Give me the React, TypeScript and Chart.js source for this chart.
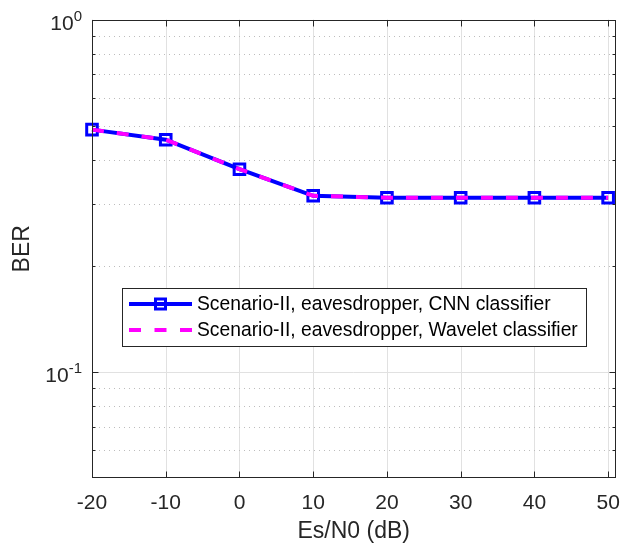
import React, { useEffect, useRef } from 'react';
import { Chart, registerables } from 'chart.js';

Chart.register(...registerables);

// ---- data ----
const SNR_DB = [-20, -10, 0, 10, 20, 30, 40, 50];
const BER_CNN = [0.487, 0.456, 0.376, 0.316, 0.312, 0.312, 0.312, 0.312];
const BER_WAVELET = [0.487, 0.456, 0.376, 0.316, 0.312, 0.312, 0.312, 0.312];
const X_TICKS = [-20, -10, 0, 10, 20, 30, 40, 50];
const Y_MAJOR = [0.1, 1];
const Y_MAJOR_EXP = ['-1', '0'];
const Y_MINOR = [0.06, 0.07, 0.08, 0.09, 0.2, 0.3, 0.4, 0.5, 0.6, 0.7, 0.8, 0.9];
const SERIES_LABELS = [
  'Scenario-II, eavesdropper, CNN classifier',
  'Scenario-II, eavesdropper, Wavelet classifier',
];
const X_TITLE = 'Es/N0 (dB)';
const Y_TITLE = 'BER';

const FONT = '"Liberation Sans", Arial, Helvetica, sans-serif';
const AXIS_COLOR = '#262626';
const BLUE = '#0000ff';
const MAGENTA = '#ff00ff';

const matlabPlugin = {
  id: 'matlabDecor',
  beforeDatasetsDraw(chart: any) {
    const { ctx, chartArea: a, scales } = chart;
    const x = scales.x;
    const y = scales.y;
    ctx.save();
    ctx.lineWidth = 1;
    ctx.strokeStyle = '#e1e1e1';
    ctx.setLineDash([]);
    for (const v of X_TICKS) {
      const px = Math.round(x.getPixelForValue(v)) + 0.5;
      ctx.beginPath();
      ctx.moveTo(px, a.top);
      ctx.lineTo(px, a.bottom);
      ctx.stroke();
    }
    for (const v of Y_MAJOR) {
      const py = Math.round(y.getPixelForValue(v)) + 0.5;
      ctx.beginPath();
      ctx.moveTo(a.left, py);
      ctx.lineTo(a.right, py);
      ctx.stroke();
    }
    ctx.strokeStyle = '#bdbdbd';
    ctx.setLineDash([1, 4]);
    for (const v of Y_MINOR) {
      const py = Math.round(y.getPixelForValue(v)) + 0.5;
      ctx.beginPath();
      ctx.moveTo(a.left + 2, py);
      ctx.lineTo(a.right, py);
      ctx.stroke();
    }
    ctx.restore();
  },
  afterDatasetsDraw(chart: any) {
    const { ctx, chartArea: a, scales } = chart;
    const x = scales.x;
    const y = scales.y;
    ctx.save();
    ctx.setLineDash([]);
    ctx.strokeStyle = AXIS_COLOR;
    ctx.lineWidth = 1;
    const L = Math.round(a.left) + 0.5;
    const R = Math.round(a.right) - 0.5;
    const T = Math.round(a.top) + 0.5;
    const B = Math.round(a.bottom) - 0.5;
    ctx.strokeRect(L, T, R - L, B - T);
    // x ticks (inside, top and bottom)
    for (const v of X_TICKS) {
      const px = Math.round(x.getPixelForValue(v)) + 0.5;
      ctx.beginPath();
      ctx.moveTo(px, B);
      ctx.lineTo(px, B - 6);
      ctx.moveTo(px, T);
      ctx.lineTo(px, T + 6);
      ctx.stroke();
    }
    // y ticks
    const yTick = (v: number, len: number) => {
      const py = Math.round(y.getPixelForValue(v)) + 0.5;
      ctx.beginPath();
      ctx.moveTo(L, py);
      ctx.lineTo(L + len, py);
      ctx.moveTo(R, py);
      ctx.lineTo(R - len, py);
      ctx.stroke();
    };
    Y_MAJOR.forEach((v) => yTick(v, 6));
    Y_MINOR.forEach((v) => yTick(v, 3));

    // y tick labels 10^n
    ctx.fillStyle = AXIS_COLOR;
    ctx.textAlign = 'left';
    ctx.textBaseline = 'alphabetic';
    Y_MAJOR.forEach((v, i) => {
      const py = y.getPixelForValue(v);
      ctx.font = `21px ${FONT}`;
      const wBase = ctx.measureText('10').width;
      ctx.font = `15px ${FONT}`;
      const wExp = ctx.measureText(Y_MAJOR_EXP[i]).width;
      const right = 82;
      const x0 = right - wBase - wExp;
      ctx.font = `21px ${FONT}`;
      ctx.fillText('10', x0, py + 10);
      ctx.font = `15px ${FONT}`;
      ctx.fillText(Y_MAJOR_EXP[i], x0 + wBase, py + 1);
    });

    // legend
    const lx0 = 122.5, ly0 = 288.5, lx1 = 586.5, ly1 = 346.5;
    ctx.fillStyle = '#ffffff';
    ctx.fillRect(lx0, ly0, lx1 - lx0, ly1 - ly0);
    ctx.strokeStyle = AXIS_COLOR;
    ctx.lineWidth = 1;
    ctx.strokeRect(lx0, ly0, lx1 - lx0, ly1 - ly0);
    const rows = [304, 330];
    // row 1
    ctx.strokeStyle = BLUE;
    ctx.lineWidth = 4;
    ctx.beginPath();
    ctx.moveTo(129, rows[0]);
    ctx.lineTo(192, rows[0]);
    ctx.stroke();
    ctx.lineWidth = 3;
    ctx.strokeRect(160.5 - 5, rows[0] - 5, 10, 10);
    // row 2
    ctx.strokeStyle = MAGENTA;
    ctx.lineWidth = 4;
    ctx.setLineDash([12, 13.5]);
    ctx.beginPath();
    ctx.moveTo(129, rows[1]);
    ctx.lineTo(192, rows[1]);
    ctx.stroke();
    ctx.setLineDash([]);
    ctx.fillStyle = '#000000';
    ctx.font = `19.3px ${FONT}`;
    ctx.textBaseline = 'middle';
    SERIES_LABELS.forEach((t, i) => ctx.fillText(t, 197, rows[i] + 1));
    ctx.restore();
  },
};

export default function App() {
  const ref = useRef<HTMLCanvasElement | null>(null);
  useEffect(() => {
    if (!ref.current) return;
    const chart = new Chart(ref.current, {
      type: 'line',
      data: {
        datasets: [
          {
            label: SERIES_LABELS[0],
            data: SNR_DB.map((v, i) => ({ x: v, y: BER_CNN[i] })),
            borderColor: BLUE,
            backgroundColor: 'rgba(0,0,0,0)',
            borderWidth: 4,
            pointStyle: 'rect',
            pointRadius: 7.5,
            pointBorderWidth: 3,
            pointBorderColor: BLUE,
            pointBackgroundColor: 'rgba(0,0,0,0)',
            tension: 0,
            clip: false as any,
            order: 2,
          },
          {
            label: SERIES_LABELS[1],
            data: SNR_DB.map((v, i) => ({ x: v, y: BER_WAVELET[i] })),
            borderColor: MAGENTA,
            backgroundColor: 'rgba(0,0,0,0)',
            borderWidth: 4,
            borderDash: [12, 13],
            pointRadius: 0,
            tension: 0,
            clip: false as any,
            order: 1,
          },
        ],
      },
      options: {
        responsive: false,
        animation: false,
        devicePixelRatio: 1,
        layout: { padding: { top: 19.5, right: 10, left: 0, bottom: 0 } },
        plugins: { legend: { display: false }, tooltip: { enabled: false } },
        scales: {
          x: {
            type: 'linear',
            min: -20,
            max: 51,
            afterBuildTicks: (s: any) => {
              s.ticks = X_TICKS.map((v) => ({ value: v }));
            },
            afterFit: (s: any) => {
              s.height = 67;
              s.paddingLeft = 0;
              s.paddingRight = 0;
            },
            grid: { display: false, drawTicks: false },
            border: { display: false },
            ticks: {
              padding: 13,
              maxRotation: 0,
              autoSkip: false,
              color: AXIS_COLOR,
              font: { family: FONT, size: 21 },
              callback: (v: any) => String(v),
            },
            title: {
              display: true,
              text: X_TITLE,
              color: AXIS_COLOR,
              font: { family: FONT, size: 23 },
              padding: { top: 0, bottom: 0 },
            },
          },
          y: {
            type: 'logarithmic',
            min: 0.05,
            max: 1,
            afterFit: (s: any) => {
              s.width = 92;
              s.paddingTop = 0;
              s.paddingBottom = 0;
            },
            grid: { display: false, drawTicks: false },
            border: { display: false },
            ticks: { display: false },
            title: {
              display: true,
              text: Y_TITLE,
              color: AXIS_COLOR,
              font: { family: FONT, size: 23 },
              padding: { top: 9, bottom: 0 },
            },
          },
        },
      },
      plugins: [matlabPlugin],
    } as any);
    return () => chart.destroy();
  }, []);
  return (
    <div style={{ position: 'fixed', left: 0, top: 0, width: 626, height: 545, background: '#fff' }}>
      <canvas ref={ref} width={626} height={545} style={{ width: 626, height: 545, display: 'block' }} />
    </div>
  );
}
